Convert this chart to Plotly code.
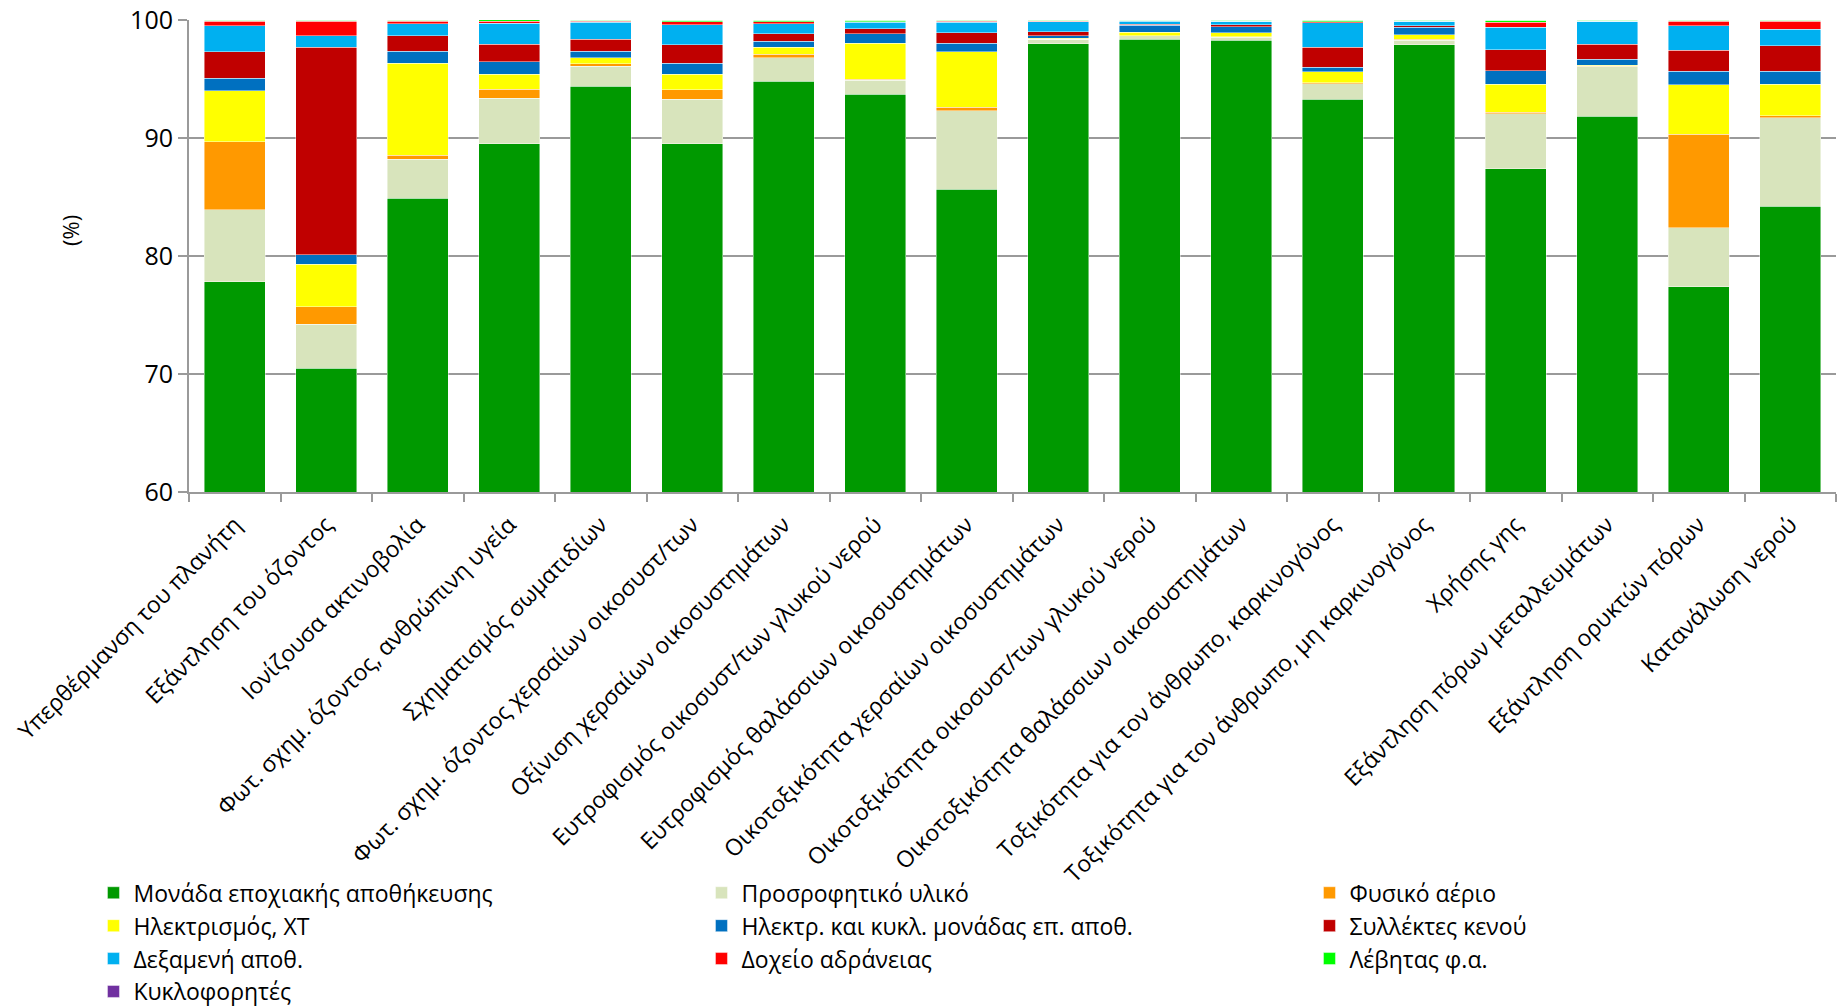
import plotly.graph_objects as go

# Impact categories (x axis)
categories = [
    "Υπερθέρμανση του πλανήτη",
    "Εξάντληση του όζοντος",
    "Ιονίζουσα ακτινοβολία",
    "Φωτ. σχημ. όζοντος, ανθρώπινη υγεία",
    "Σχηματισμός σωματιδίων",
    "Φωτ. σχημ. όζοντος χερσαίων οικοσυστ/των",
    "Οξίνιση χερσαίων οικοσυστημάτων",
    "Ευτροφισμός οικοσυστ/των γλυκού νερού",
    "Ευτροφισμός θαλάσσιων οικοσυστημάτων",
    "Οικοτοξικότητα χερσαίων οικοσυστημάτων",
    "Οικοτοξικότητα οικοσυστ/των γλυκού νερού",
    "Οικοτοξικότητα θαλάσσιων οικοσυστημάτων",
    "Τοξικότητα για τον άνθρωπο, καρκινογόνος",
    "Τοξικότητα για τον άνθρωπο, μη καρκινογόνος",
    "Χρήσης γης",
    "Εξάντληση πόρων μεταλλευμάτων",
    "Εξάντληση ορυκτών πόρων",
    "Κατανάλωση νερού",
]

# Contribution of each component (%)
seasonal_storage = [77.8, 70.5, 84.9, 89.5, 94.4, 89.5, 94.8, 93.7, 85.65, 98.0, 98.35, 98.3, 93.3, 97.9, 87.4, 91.85, 77.4, 84.2]
sorbent = [6.1, 3.7, 3.3, 3.85, 1.7, 3.8, 2.0, 1.2, 6.65, 0.35, 0.3, 0.25, 1.3, 0.4, 4.65, 4.2, 5.0, 7.5]
natural_gas = [5.8, 1.5, 0.35, 0.8, 0.2, 0.8, 0.3, 0.1, 0.3, 0.02, 0.02, 0.02, 0.08, 0.05, 0.15, 0.02, 7.9, 0.17]
electricity_lv = [4.3, 3.6, 7.8, 1.27, 0.5, 1.3, 0.6, 3.05, 4.7, 0.08, 0.3, 0.37, 0.95, 0.4, 2.35, 0.1, 4.2, 2.7]
storage_electronics = [1.06, 0.8, 1.0, 1.04, 0.55, 0.95, 0.5, 0.8, 0.75, 0.2, 0.6, 0.5, 0.35, 0.62, 1.15, 0.5, 1.15, 1.1]
vacuum_collectors = [2.25, 17.6, 1.3, 1.5, 1.0, 1.55, 0.65, 0.4, 0.85, 0.35, 0.08, 0.15, 1.7, 0.14, 1.77, 1.27, 1.8, 2.15]
storage_tank = [2.2, 0.95, 1.05, 1.75, 1.45, 1.7, 0.85, 0.55, 0.9, 0.85, 0.25, 0.3, 2.1, 0.37, 1.93, 1.95, 2.05, 1.4]
buffer_tank = [0.37, 1.25, 0.2, 0.2, 0.1, 0.25, 0.15, 0.05, 0.1, 0.03, 0.02, 0.02, 0.07, 0.03, 0.42, 0.02, 0.4, 0.68]
gas_boiler = [0.1, 0.1, 0.1, 0.1, 0.1, 0.15, 0.15, 0.15, 0.1, 0.1, 0.08, 0.07, 0.15, 0.09, 0.18, 0.09, 0.1, 0.1]
pumps = [0.02, 0.0, 0.0, 0.01, 0.0, 0.0, 0.0, 0.0, 0.0, 0.02, 0.0, 0.02, 0.0, 0.0, 0.0, 0.0, 0.0, 0.0]

series_names = [
    "Μονάδα εποχιακής αποθήκευσης",
    "Προσροφητικό υλικό",
    "Φυσικό αέριο",
    "Ηλεκτρισμός, ΧΤ",
    "Ηλεκτρ. και κυκλ. μονάδας επ. αποθ.",
    "Συλλέκτες κενού",
    "Δεξαμενή αποθ.",
    "Δοχείο αδράνειας",
    "Λέβητας φ.α.",
    "Κυκλοφορητές",
]
series_values = [
    seasonal_storage, sorbent, natural_gas, electricity_lv, storage_electronics,
    vacuum_collectors, storage_tank, buffer_tank, gas_boiler, pumps,
]
series_colors = [
    "#009900", "#D8E4BC", "#FF9900", "#FFFF00", "#0070C0",
    "#C00000", "#00B0F0", "#FF0000", "#00FF00", "#7030A0",
]

FONT = "Open Sans"
GRID = "#9a9a9a"

fig = go.Figure()
for name, vals, col in zip(series_names, series_values, series_colors):
    fig.add_trace(go.Bar(
        x=categories,
        y=vals,
        name=name,
        marker=dict(color=col, line=dict(color="rgba(255,255,255,0.55)", width=0.8)),
    ))

fig.update_layout(
    barmode="stack",
    bargap=0.33,
    width=1840,
    height=1007,
    margin=dict(l=189, r=4, t=20, b=515, autoexpand=False),
    paper_bgcolor="white",
    plot_bgcolor="white",
    font=dict(family=FONT, size=22, color="black"),
    showlegend=True,
    legend=dict(
        orientation="h",
        x=-0.058,
        xanchor="left",
        y=-0.8036,
        yanchor="top",
        bgcolor="rgba(0,0,0,0)",
        entrywidth=563,
        entrywidthmode="pixels",
        itemwidth=30,
        tracegroupgap=0,
        traceorder="normal",
        font=dict(family=FONT, size=23, color="black"),
    ),
    yaxis=dict(
        range=[60, 100],
        tickvals=[60, 70, 80, 90, 100],
        showgrid=True,
        gridcolor=GRID,
        gridwidth=2,
        showline=True,
        linecolor=GRID,
        linewidth=2,
        ticks="outside",
        ticklen=9,
        tickwidth=2,
        tickcolor=GRID,
        tickfont=dict(family=FONT, size=25, color="black"),
        zeroline=False,
        automargin=False,
    ),
    xaxis=dict(
        tickangle=-45,
        showline=True,
        linecolor=GRID,
        linewidth=2,
        ticks="outside",
        tickson="boundaries",
        ticklen=8,
        tickwidth=2,
        tickcolor=GRID,
        ticklabelstandoff=8,
        tickfont=dict(family=FONT, size=23, color="black"),
        showgrid=False,
        automargin=False,
    ),
    annotations=[
        dict(
            text="(%)",
            xref="paper", yref="paper",
            x=(70 - 189) / 1647, y=(492 - 231) / 472,
            xanchor="center", yanchor="middle",
            textangle=-90,
            showarrow=False,
            font=dict(family=FONT, size=22, color="black"),
        )
    ],
)

fig.write_html("out.html")
